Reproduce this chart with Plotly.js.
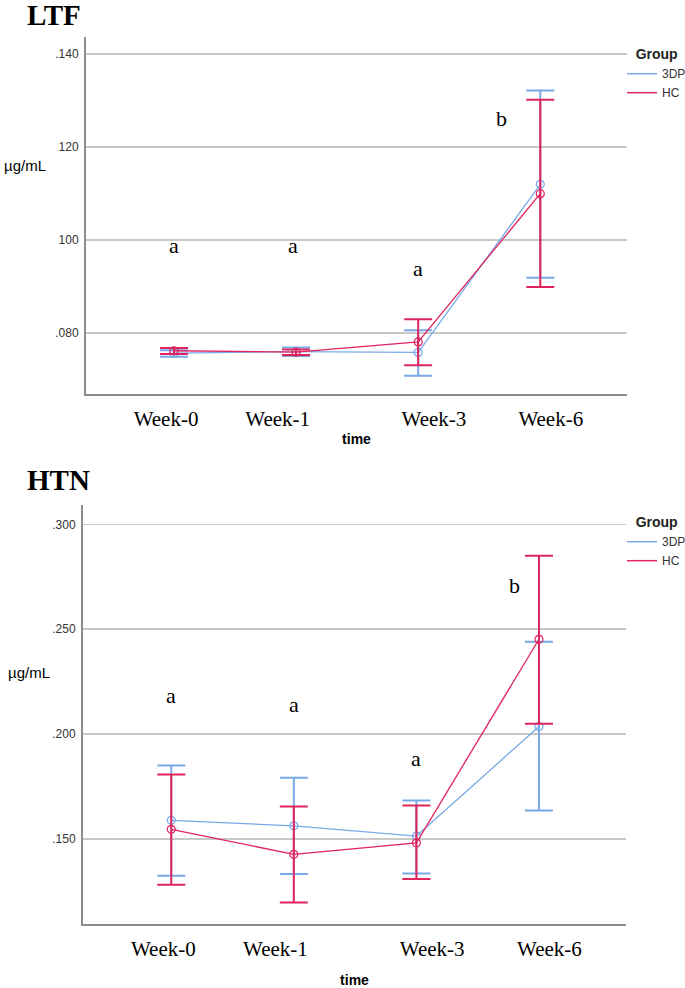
<!DOCTYPE html>
<html>
<head>
<meta charset="utf-8">
<script src="https://cdn.plot.ly/plotly-3.0.1.min.js"></script>
<style>
  html, body { margin: 0; padding: 0; background: #fff; overflow: hidden; }
  #plotDiv { width: 685px; height: 988px; }
</style>
</head>
<body>
<div id="plotDiv"></div>
<script>
// categories
var weeks = ['Week-0', 'Week-1', 'Week-3', 'Week-6'];

// LTF (top panel), mean and CI bounds
var ltf3dp   = [75.7, 76.0, 75.85, 112.0];
var ltf3dpHi = [76.3, 76.9, 80.6, 132.2];
var ltf3dpLo = [74.9, 75.1, 70.8, 91.9];
var ltfHC    = [76.2, 75.9, 78.1, 110.0];
var ltfHCHi  = [76.8, 76.5, 83.0, 130.2];
var ltfHCLo  = [75.5, 75.3, 73.1, 89.9];

// HTN (bottom panel)
var htn3dp   = [0.1589, 0.1563, 0.1514, 0.2036];
var htn3dpHi = [0.1850, 0.1792, 0.1684, 0.2440];
var htn3dpLo = [0.1325, 0.1333, 0.1336, 0.1636];
var htnHC    = [0.1546, 0.1427, 0.1482, 0.2452];
var htnHCHi  = [0.1808, 0.1655, 0.1660, 0.2850];
var htnHCLo  = [0.1282, 0.1197, 0.1310, 0.2049];

// significance letters
var ltfLetters = ['a', 'a', 'a', 'b'];
var ltfLetterX = [0, 0.975, 2.0, 2.68];
var ltfLetterY = [98.9, 98.9, 94.0, 126.2];
var htnLetters = ['a', 'a', 'a', 'b'];
var htnLetterX = [0, 1.0, 2.0, 2.8];
var htnLetterY = [0.2184, 0.2143, 0.1882, 0.2708];

// tick labels
var ltfTicks = [80, 100, 120, 140];
var ltfTickText = ['.080', '100', '120', '.140'];
var htnTicks = [0.15, 0.20, 0.25, 0.30];
var htnTickText = ['.150', '.200', '.250', '.300'];

var blue = '#78a9e8';
var red = '#e0245e';

// the week labels in the original sit a little off their points; nudge with spaces
// (negative = spaces after, positive = spaces before)
var nudge = [-3, -7, 6, 4];
function sp(n) { return new Array(n + 1).join('&nbsp;'); }
var weekText = weeks.map(function (w, i) {
  return nudge[i] < 0 ? w + sp(-nudge[i]) : sp(nudge[i]) + w;
});

function band(mean, hi, lo) {
  return {
    type: 'data',
    array: hi.map(function (v, i) { return v - mean[i]; }),
    arrayminus: lo.map(function (v, i) { return mean[i] - v; }),
    width: 14,
    thickness: 2
  };
}

function series(y, hi, lo, color, xa, ya) {
  var e = band(y, hi, lo);
  e.color = color;
  return {
    type: 'scatter',
    mode: 'lines+markers',
    x: weeks,
    y: y,
    xaxis: xa,
    yaxis: ya,
    showlegend: false,
    line: { color: color, width: 1.3 },
    marker: { symbol: 'circle-open', size: 8, color: color, line: { width: 1.2 } },
    error_y: e,
    hoverinfo: 'skip'
  };
}

function legendItem(name, color, lg) {
  return {
    type: 'scatter', mode: 'lines', x: [null], y: [null],
    name: name, legend: lg, xaxis: lg === 'legend' ? 'x' : 'x2', yaxis: lg === 'legend' ? 'y' : 'y2',
    line: { color: color, width: 1.5 }
  };
}

var plotData = [
  series(ltf3dp, ltf3dpHi, ltf3dpLo, blue, 'x', 'y'),
  series(ltfHC, ltfHCHi, ltfHCLo, red, 'x', 'y'),
  series(htn3dp, htn3dpHi, htn3dpLo, blue, 'x2', 'y2'),
  series(htnHC, htnHCHi, htnHCLo, red, 'x2', 'y2'),
  legendItem('3DP', blue, 'legend'),
  legendItem('HC', red, 'legend'),
  legendItem('3DP', blue, 'legend2'),
  legendItem('HC', red, 'legend2')
];

var serif = 'Liberation Serif, Times New Roman, serif';
var sans = 'Liberation Sans, Arial, sans-serif';

function xAxis(dom, anchor, titleGap) {
  return {
    domain: dom, anchor: anchor, type: 'category',
    range: [-0.72, 3.71],
    tickvals: weeks, ticktext: weekText,
    showgrid: false, zeroline: false,
    showline: true, linecolor: '#8c8c8c', linewidth: 2,
    ticks: '', ticklabelstandoff: 5,
    tickfont: { family: serif, size: 21, color: '#000' },
    title: { text: 'time', font: { family: sans, size: 14, color: '#000', weight: 'bold' }, standoff: titleGap },
    fixedrange: true
  };
}

function yAxis(dom, anchor, rng, tv, tt) {
  return {
    domain: dom, anchor: anchor, range: rng,
    tickvals: tv, ticktext: tt,
    showgrid: true, gridcolor: '#c8c8c8', gridwidth: 1.5,
    zeroline: false,
    showline: true, linecolor: '#8c8c8c', linewidth: 2,
    ticks: '', ticklabelstandoff: 3,
    tickfont: { family: sans, size: 12, color: '#333' },
    fixedrange: true
  };
}

var annotations = [
  { text: '<b>LTF</b>', xref: 'paper', yref: 'paper', x: 25 / 685, y: 1 - 15 / 988,
    xanchor: 'left', yanchor: 'middle', showarrow: false, font: { family: serif, size: 29, color: '#000' } },
  { text: '<b>HTN</b>', xref: 'paper', yref: 'paper', x: 25 / 685, y: 1 - 480 / 988,
    xanchor: 'left', yanchor: 'middle', showarrow: false, font: { family: serif, size: 29, color: '#000' } },
  { text: 'µg/mL', xref: 'paper', yref: 'paper', x: 2 / 685, y: 1 - 165 / 988,
    xanchor: 'left', yanchor: 'middle', showarrow: false, font: { family: sans, size: 15, color: '#000' } },
  { text: 'µg/mL', xref: 'paper', yref: 'paper', x: 6 / 685, y: 1 - 672 / 988,
    xanchor: 'left', yanchor: 'middle', showarrow: false, font: { family: sans, size: 15, color: '#000' } }
];

ltfLetters.forEach(function (t, i) {
  annotations.push({ text: t, xref: 'x', yref: 'y', x: ltfLetterX[i], y: ltfLetterY[i],
    showarrow: false, font: { family: serif, size: 22, color: '#000' } });
});
htnLetters.forEach(function (t, i) {
  annotations.push({ text: t, xref: 'x2', yref: 'y2', x: htnLetterX[i], y: htnLetterY[i],
    showarrow: false, font: { family: serif, size: 22, color: '#000' } });
});

function legendBox(ytop) {
  return {
    x: 622 / 685, y: ytop, xanchor: 'left', yanchor: 'top',
    bgcolor: 'rgba(0,0,0,0)', borderwidth: 0,
    tracegroupgap: 0, itemwidth: 30,
    font: { family: sans, size: 12, color: '#333' },
    title: { text: '&nbsp;&nbsp;&nbsp;<b>Group</b>', font: { family: sans, size: 14, color: '#222' } }
  };
}

var layout = {
  width: 685,
  height: 988,
  margin: { l: 0, r: 0, t: 0, b: 0, pad: 0, autoexpand: false },
  paper_bgcolor: '#fff',
  plot_bgcolor: '#fff',
  showlegend: true,
  xaxis: xAxis([86 / 685, 627 / 685], 'y', 3),
  yaxis: yAxis([1 - 394 / 988, 1 - 37 / 988], 'x', [66.9, 143.7], ltfTicks, ltfTickText),
  xaxis2: xAxis([83 / 685, 626 / 685], 'y2', 16),
  yaxis2: yAxis([1 - 924 / 988, 1 - 505 / 988], 'x2', [0.1095, 0.3092], htnTicks, htnTickText),
  legend: legendBox(1 - 41 / 988),
  legend2: legendBox(1 - 509 / 988),
  annotations: annotations
};

Plotly.newPlot('plotDiv', plotData, layout, { staticPlot: true });
</script>
</body>
</html>
